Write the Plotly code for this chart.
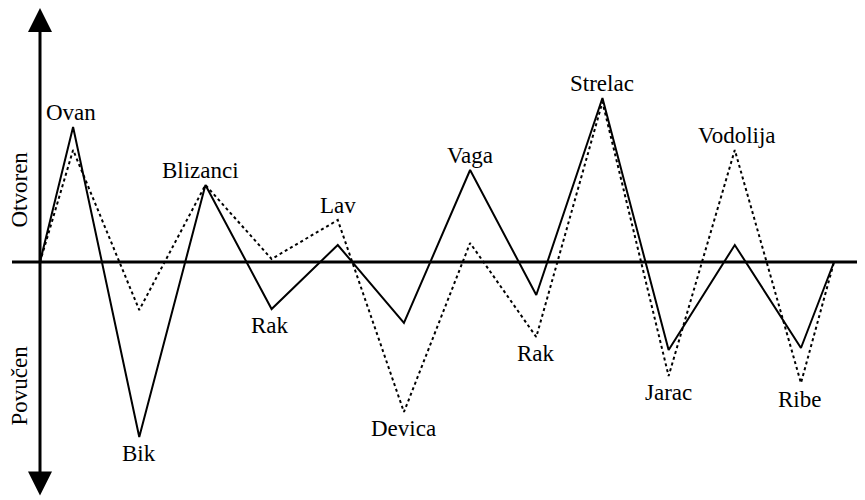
import plotly.graph_objects as go

signs = ["Ovan", "Bik", "Blizanci", "Rak", "Lav", "Devica",
         "Vaga", "Rak", "Strelac", "Jarac", "Vodolija", "Ribe"]
x_pos = [0.5, 1.5, 2.5, 3.5, 4.5, 5.5, 6.5, 7.5, 8.5, 9.5, 10.5, 11.5]
solid_vals = [135, -175, 77, -47, 17, -61, 92, -33, 164, -88, 17, -86]
dotted_vals = [112, -48, 77, 3, 42, -150, 19, -75, 160, -114, 112, -121]
label_xshift = [-2, 0, -5, -2, 0, 0, 0, 0, 0, 0, 2, -1]
axis_labels = ["Otvoren", "Povučen"]

FONT = "Liberation Serif, Times New Roman, serif"
PAGE_OFF = 8  # default body margin of the html page
UNIT = 66.17

xs = [0] + x_pos + [12]
fig = go.Figure()
fig.add_trace(go.Scatter(
    x=xs, y=[0] + dotted_vals + [0], mode="lines",
    line=dict(color="black", width=2, dash="3px,3px"),
    hoverinfo="skip",
))
fig.add_trace(go.Scatter(
    x=xs, y=[0] + solid_vals + [0], mode="lines",
    line=dict(color="black", width=2),
    hoverinfo="skip",
))

# horizontal baseline
fig.add_shape(type="line", xref="paper", yref="y",
              x0=(12 - PAGE_OFF) / 865, x1=1, y0=0, y1=0,
              line=dict(color="black", width=3))

# vertical double arrow
fig.add_annotation(x=0, y=254, ax=0, ay=-235, xref="x", yref="y",
                   axref="x", ayref="y", text="", showarrow=True,
                   arrowhead=2, arrowside="end+start", arrowsize=1.6,
                   arrowwidth=3, arrowcolor="black")

for name, xv, s, d, dx in zip(signs, x_pos, solid_vals, dotted_vals, label_xshift):
    if s > 0:
        yv, shift = max(s, d), 15
    else:
        yv, shift = min(s, d), -16
    fig.add_annotation(x=xv, y=yv, text=name, showarrow=False,
                       yanchor="middle", xanchor="center",
                       yshift=shift, xshift=dx,
                       font=dict(family=FONT, size=23, color="black"))

for lbl, yc in zip(axis_labels, [190, 386]):
    fig.add_annotation(x=0, y=1 - (yc - PAGE_OFF) / 500,
                       xref="paper", yref="paper",
                       text=lbl, showarrow=False, textangle=-90,
                       xanchor="left", yanchor="middle", xshift=-4,
                       font=dict(family=FONT, size=23, color="black"))

fig.update_layout(
    width=865, height=500,
    margin=dict(l=0, r=0, t=0, b=0),
    paper_bgcolor="white", plot_bgcolor="white",
    showlegend=False,
    xaxis=dict(range=[-(40 - PAGE_OFF) / UNIT, (865 - 40 + PAGE_OFF) / UNIT],
               visible=False, fixedrange=True),
    yaxis=dict(range=[262 - PAGE_OFF - 500, 262 - PAGE_OFF],
               visible=False, fixedrange=True),
)

fig.write_html("out.html")
